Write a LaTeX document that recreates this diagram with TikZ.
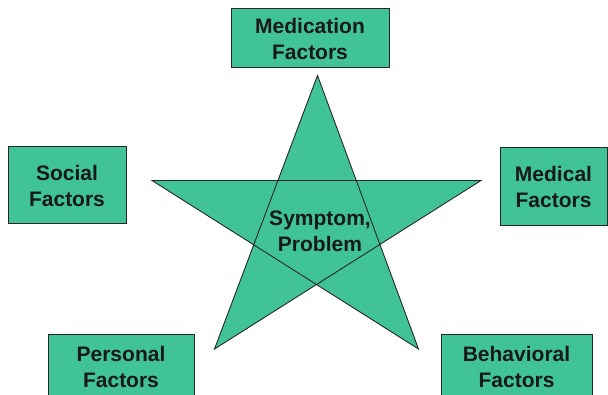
\documentclass[tikz,border=0pt]{standalone}
\usepackage{fontspec}
\setmainfont{Liberation Sans}
\begin{document}
\definecolor{factorgreen}{RGB}{64,196,151}
\begin{tikzpicture}[x=1pt,y=-1pt,
  factorbox/.style={draw=black!85, line width=1pt, fill=factorgreen,
    inner sep=0pt, align=center, font=\fontsize{21}{26}\selectfont\bfseries,
    text=black!90},
  centerlabel/.style={inner sep=0pt, align=center,
    font=\fontsize{21}{26}\selectfont\bfseries, text=black!90}]
  \useasboundingbox (0,0) rectangle (608,395);
  \clip (0,0) rectangle (608,395);

  % five points of the star
  \coordinate (ptop) at (317.5,75.5);
  \coordinate (pleft) at (152,180.5);
  \coordinate (pright) at (481,180.5);
  \coordinate (pbl) at (214.5,349);
  \coordinate (pbr) at (418.5,349);

  % pentagram, filled with the nonzero rule so the inner pentagon is filled too
  \draw[fill=factorgreen, draw=black!85, line width=0.9pt, line join=miter]
    (ptop) -- (pbl) -- (pright) -- (pleft) -- (pbr) -- cycle;

  \node[centerlabel] (symptom) at (320,231) {Symptom,\\Problem};

  % factor boxes around the star
  \node[factorbox, minimum width=158pt, minimum height=59pt] (medication) at (310,38.5) {Medication\\Factors};
  \node[factorbox, minimum width=118pt, minimum height=77pt] (social) at (67,185.5) {Social\\Factors};
  \node[factorbox, minimum width=107pt, minimum height=78pt] (medical) at (553.5,186.5) {Medical\\Factors};
  \node[factorbox, minimum width=146pt, minimum height=64pt] (personal) at (121,367) {Personal\\Factors};
  \node[factorbox, minimum width=151pt, minimum height=64pt] (behavioral) at (516.5,367) {Behavioral\\Factors};
\end{tikzpicture}
\end{document}
